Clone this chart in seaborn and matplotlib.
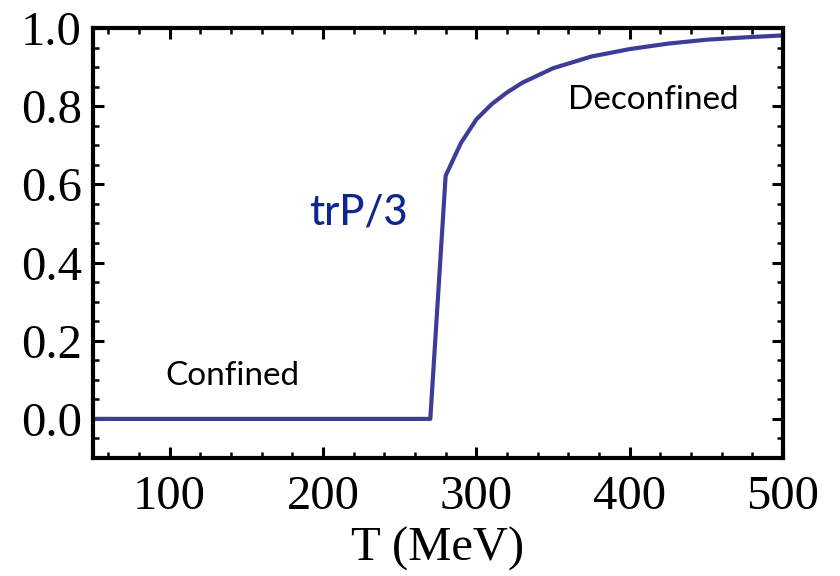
import matplotlib
matplotlib.use("Agg")
import matplotlib.pyplot as plt
import seaborn as sns
import pandas as pd
from matplotlib.ticker import MultipleLocator

# Data
T_values = [50, 270, 280, 290, 300, 310, 320, 330, 350, 375, 400, 425, 450, 475, 500]
polyakov = [0.0, 0.0, 0.622, 0.706, 0.766, 0.805, 0.835, 0.860, 0.897, 0.927, 0.946, 0.960, 0.970, 0.976, 0.981]

x_ticks = [100, 200, 300, 400, 500]
y_ticks = [0.0, 0.2, 0.4, 0.6, 0.8, 1.0]
y_tick_labels = ["0.0", "0.2", "0.4", "0.6", "0.8", "1.0"]

df = pd.DataFrame({"T": T_values, "P": polyakov})

sns.set_theme(style="ticks")
plt.rcParams["font.family"] = ["Liberation Serif", "DejaVu Serif"]
plt.rcParams["text.color"] = "black"
plt.rcParams["xtick.labelcolor"] = "black"
plt.rcParams["ytick.labelcolor"] = "black"
plt.rcParams["axes.labelcolor"] = "black"

fig = plt.figure(figsize=(8.4, 5.76), dpi=100)
ax = fig.add_axes([0.1107, 0.2049, 0.8214, 0.7465])

sns.lineplot(data=df, x="T", y="P", ax=ax, color="#3d3d99", linewidth=3.0, sort=False)

ax.set_xlim(50, 500)
ax.set_ylim(-0.1, 1.0)
ax.set_xticks(x_ticks)
ax.set_yticks(y_ticks)
ax.set_yticklabels(y_tick_labels)
ax.xaxis.set_minor_locator(MultipleLocator(20))
ax.yaxis.set_minor_locator(MultipleLocator(0.05))

ax.tick_params(which="both", direction="in", top=True, right=True, color="black")
ax.tick_params(which="major", length=8, width=2.2, labelsize=35)
ax.tick_params(axis="x", which="major", pad=12)
ax.tick_params(axis="y", which="major", pad=8)
ax.tick_params(which="minor", length=4.5, width=1.8)
for sp in ax.spines.values():
    sp.set_linewidth(3)
    sp.set_color("black")

ax.set_xlabel("T (MeV)", fontsize=35, labelpad=6)
ax.set_ylabel("")

txt_font = ["Lato", "DejaVu Sans"]
ax.text(222.8, 0.527, "trP/3", color="#0f2590", fontsize=30, family=txt_font,
        ha="center", va="center", fontweight="medium")
ax.text(140.7, 0.11, "Confined", color="black", fontsize=24, family=txt_font,
        ha="center", va="center")
ax.text(415.2, 0.815, "Deconfined", color="black", fontsize=24, family=txt_font,
        ha="center", va="center")

fig.savefig("out.png", dpi=100)
